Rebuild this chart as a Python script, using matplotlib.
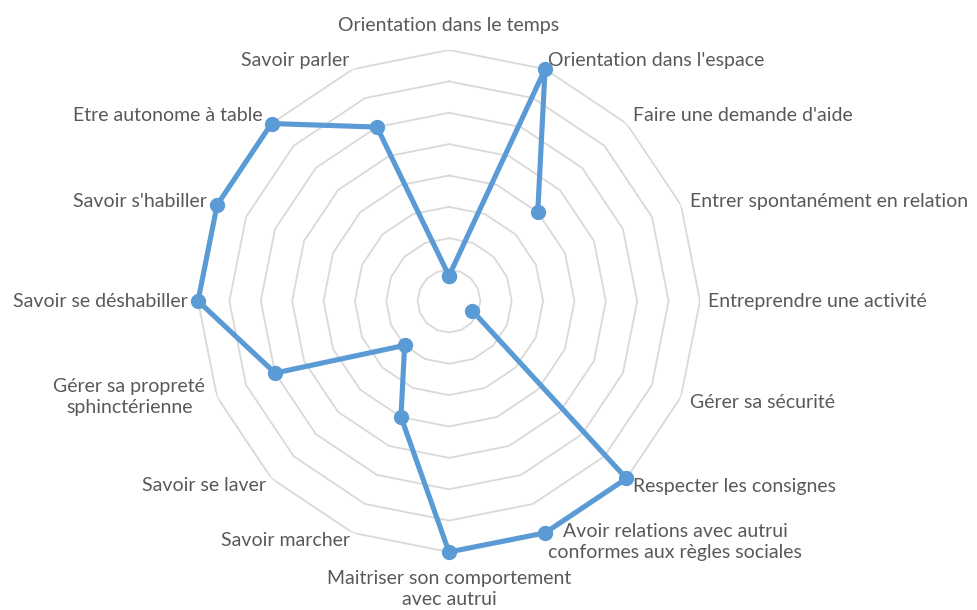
import numpy as np
import matplotlib
matplotlib.use("Agg")
import matplotlib.pyplot as plt

categories = [
    "Orientation dans le temps",
    "Orientation dans l'espace",
    "Faire une demande d'aide",
    "Entrer spontanément en relation",
    "Entreprendre une activité",
    "Gérer sa sécurité",
    "Respecter les consignes",
    "Avoir relations avec autrui\nconformes aux règles sociales",
    "Maitriser son comportement\navec autrui",
    "Savoir marcher",
    "Savoir se laver",
    "Gérer sa propreté\nsphinctérienne",
    "Savoir se déshabiller",
    "Savoir s'habiller",
    "Etre autonome à table",
    "Savoir parler",
]
values = [0.4, 4, 2, np.nan, np.nan, 0.4, 4, 4, 4, 2, 1, 3, 4, 4, 4, 3]
ring_levels = [0.5, 1, 1.5, 2, 2.5, 3, 3.5, 4]
r_max = 4

# label anchor offsets (pixels) and alignment
label_style = [
    ((0, 25), "center", "center"),
    ((3, 9), "left", "center"),
    ((7, 8), "left", "center"),
    ((9, 3), "left", "center"),
    ((8, 0), "left", "center"),
    ((9, -5), "left", "center"),
    ((7, -8), "left", "center"),
    ((3, -9), "left", "center"),
    ((0, -37), "center", "center"),
    ((-3, -8), "right", "center"),
    ((-6, -7), "right", "center"),
    ((-12, 0), "right", "center"),
    ((-10, 0), "right", "center"),
    ((-10, 3), "right", "center"),
    ((-9, 8), "right", "center"),
    ((-4, 9), "right", "center"),
]

plt.rcParams['font.family'] = ['Lato', 'DejaVu Sans']

fig = plt.figure(figsize=(9.78, 6.10), dpi=100)
W, H = 978, 610
cx, cy, R = 449, 301, 251
ax = fig.add_axes([(cx - R) / W, (H - cy - R) / H, 2 * R / W, 2 * R / H], projection='polar')
ax.set_theta_zero_location('N')
ax.set_theta_direction(-1)

n = len(categories)
angles = np.arange(n) * 2 * np.pi / n
ang_closed = np.append(angles, angles[0])

for lv in ring_levels:
    ax.plot(ang_closed, [lv] * (n + 1), color='#D9D9D9', lw=1.3, zorder=1)

vals_closed = np.append(values, values[0])
ax.plot(ang_closed, vals_closed, color='#5B9BD5', lw=3.7, marker='o', markersize=10,
        solid_joinstyle='round', solid_capstyle='round', zorder=3, clip_on=False)

ax.set_ylim(0, r_max)
ax.set_xticks([])
ax.set_yticks([])
ax.grid(False)
ax.spines['polar'].set_visible(False)
ax.patch.set_visible(False)

for a, lab, (off, ha, va) in zip(angles, categories, label_style):
    ax.annotate(lab, xy=(a, r_max), xytext=off, textcoords='offset pixels',
                ha=ha, va=va, multialignment='center', fontsize=14,
                linespacing=1.28, color='#595959', annotation_clip=False)

fig.savefig('out.png', dpi=100)
